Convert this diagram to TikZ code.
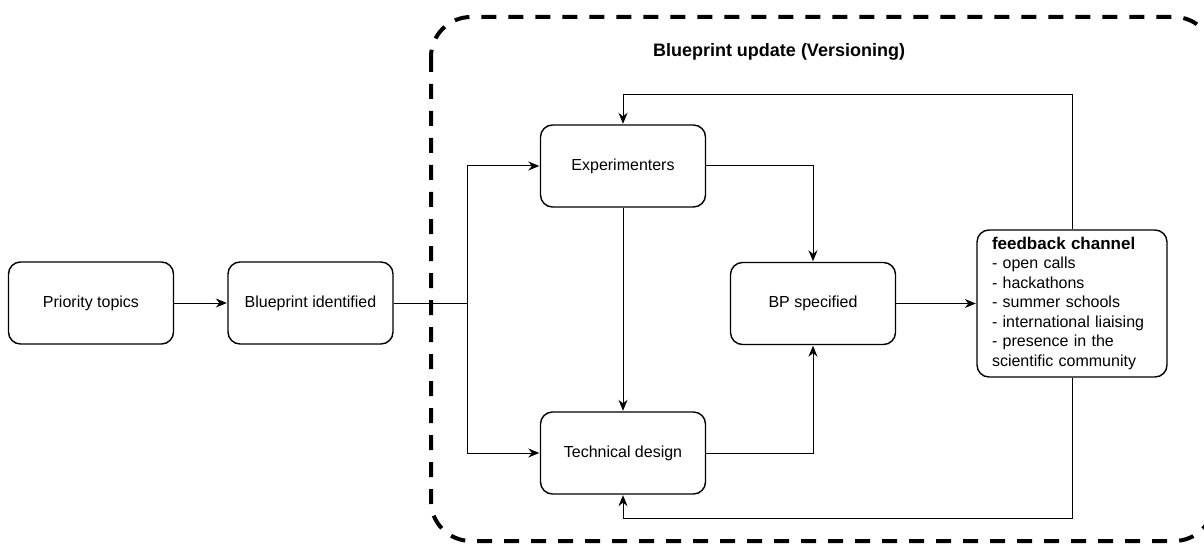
\documentclass[tikz,border=0pt]{standalone}
\usepackage{fontspec}
\setmainfont{Liberation Sans}
\usetikzlibrary{arrows.meta,positioning}

\begin{document}
\begin{tikzpicture}[x=1pt,y=1pt,>={Stealth[length=11pt,width=9pt]},shorten >=0.5pt,node distance=2cm,on grid,auto,line width=1pt]
       \tikzstyle{every node}=[font=\fontsize{16}{19.5}\selectfont]
       \tikzstyle{box}=[draw,line width=1.4pt,rounded corners=12pt,minimum width=165pt,minimum height=82pt,inner sep=0pt]
       \tikzstyle{frame}=[draw,line width=4pt,dash pattern=on 15pt off 12pt,rounded corners=40pt]

       \useasboundingbox (0,0) rectangle (1204,-548);

       \draw[frame] (431,-17) rectangle (1214,-541);
       \node[font=\fontsize{18}{22}\selectfont\bfseries] (title) at (779,-52) {Blueprint update (Versioning)};

       \node[box] (prio) at (91,-303) {Priority topics};
       \node[box] (bp_id) [right =219.5pt of prio] {Blueprint identified};
       \node[box] (exp) [above right =137pt and 312.5pt of bp_id] {Experimenters};
       \node[box] (tech) [below =287pt of exp] {Technical design};
       \node[box] (bp_spec) [below right =137.5pt and 190pt of exp] {BP specified};
       \node[box,minimum width=190pt,minimum height=147pt,text width=160pt,align=left] (fb) [right =259pt of bp_spec]
         {{\fontsize{17}{21}\selectfont\bfseries feedback channel}\\
          - open calls\\
          - hackathons\\
          - summer schools\\
          - international liaising\\
          - presence in the\\
          scientific community};
       \coordinate[right =74pt of bp_id.east] (d_split);

       \path[->]
       (prio) edge (bp_id)
       (exp) edge (tech)
       (bp_spec) edge (fb);

       \draw (bp_id) -- (d_split);
       \draw[->] (d_split) |- (exp);
       \draw[->] (d_split) |- (tech);
       \draw[->] (exp) -| (bp_spec);
       \draw[->] (tech) -| (bp_spec);

       \draw[->] (fb.north) -- ++(0,135pt) -| (exp.north);
       \draw[->] (fb.south) -- ++(0,-141pt) -| (tech.south);
     \end{tikzpicture}
\end{document}
